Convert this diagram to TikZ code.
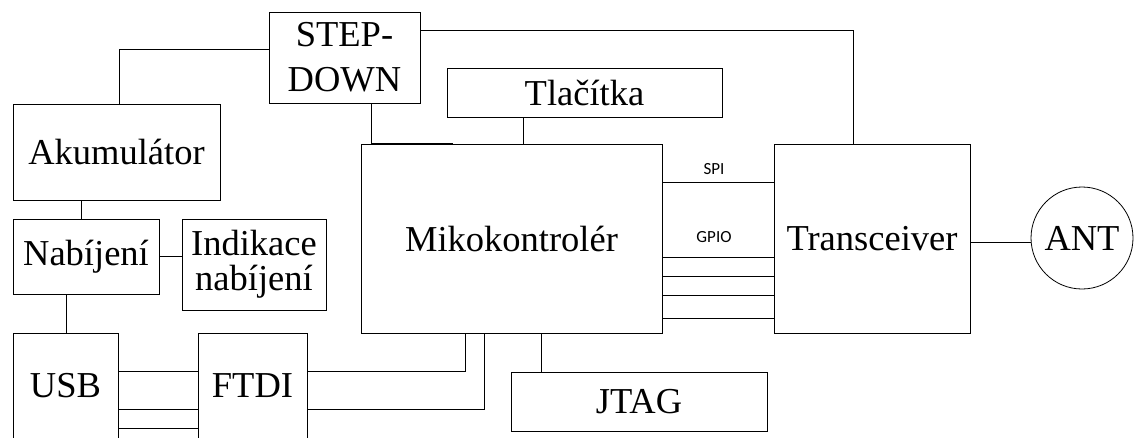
\documentclass[tikz,border=0pt]{standalone}
\usepackage{fontspec}
\setmainfont{Liberation Serif}
\newfontfamily\labelfont{Carlito}
\begin{document}
\begin{tikzpicture}[x=1pt,y=-1pt,
  box/.style={draw, rectangle, inner sep=0pt, align=center,
    font=\fontsize{36.5}{45}\selectfont},
  wire/.style={draw, line width=0.8pt},
  lbl/.style={font=\labelfont\fontsize{17}{20}\selectfont, inner sep=0pt},
  every node/.append style={line width=0.8pt}]
\useasboundingbox (0,0) rectangle (1135,437);
\clip (0,0) rectangle (1135,437);

% blocks
\node[box, minimum width=151pt, minimum height=91pt] (sd) at (344.5,57.5) {STEP-\\DOWN};
\node[box, minimum width=207pt, minimum height=96pt] (ak) at (116.5,152) {Akumulátor};
\node[box, minimum width=146pt, minimum height=75pt] (nab) at (86,256.5) {Nabíjení};
\node[box, minimum width=144pt, minimum height=91pt,
      font=\fontsize{36.5}{35}\selectfont] (ind) at (254,264.5) {Indikace\\nabíjení};
\node[box, minimum width=105pt, minimum height=106pt] (usb) at (65.5,386) {USB};
\node[box, minimum width=109pt, minimum height=106pt] (ftdi) at (252.5,386) {FTDI};
\node[box, minimum width=301pt, minimum height=189pt] (mcu) at (511.5,238.5) {Mikokontrolér};
\node[box, minimum width=275pt, minimum height=49pt] (tl) at (584.5,92.5) {Tlačítka};
\node[box, minimum width=256pt, minimum height=59pt] (jtag) at (639,401.5) {JTAG};
\node[box, minimum width=196pt, minimum height=189pt] (tr) at (872,238.5) {Transceiver};
\node[box, circle, minimum size=102pt] (ant) at (1082,238) {ANT};

% power distribution
\draw[wire] ([yshift=8.5pt]sd.west) -| ([xshift=2.5pt]ak.north);
\draw[wire] ([yshift=27.5pt]sd.east) -| ([xshift=-19pt]tr.north);
\draw[wire] ([xshift=26.5pt]sd.south) |- ([xshift=-58.5pt]mcu.north);
\draw[wire] ([xshift=-61.5pt]tl.south) -- ([xshift=-61.5pt]tl.south |- mcu.north);
\draw[wire] ([xshift=-35.5pt]ak.south) -- ([xshift=-35.5pt]ak.south |- nab.north);
\draw[wire] (nab.east) -- (nab.east -| ind.west);
\draw[wire] ([xshift=-20pt]nab.south) -- ([xshift=-20pt]nab.south |- usb.north);

% USB to FTDI
\foreach \dy in {15,-23,-42}
  \draw[wire] ([yshift=\dy pt]usb.east) -- ([yshift=\dy pt]usb.east -| ftdi.west);

% FTDI to microcontroller
\draw[wire] ([yshift=15pt]ftdi.east) -| ([xshift=-46.5pt]mcu.south);
\draw[wire] ([yshift=-23pt]ftdi.east) -| ([xshift=-27.5pt]mcu.south);

% JTAG
\draw[wire] ([xshift=29.5pt]mcu.south) -- ([xshift=29.5pt]mcu.south |- jtag.north);

% microcontroller to transceiver
\draw[wire] ([yshift=56.5pt]mcu.east) -- ([yshift=56.5pt]mcu.east -| tr.west)
  node[lbl, midway, above=7pt, xshift=-4pt] {SPI};
\draw[wire] ([yshift=-18.5pt]mcu.east) -- ([yshift=-18.5pt]mcu.east -| tr.west)
  node[lbl, midway, above=14pt, xshift=-4pt] {GPIO};
\foreach \dy in {-37.5,-56.5,-79.5}
  \draw[wire] ([yshift=\dy pt]mcu.east) -- ([yshift=\dy pt]mcu.east -| tr.west);

% antenna
\draw[wire] ([yshift=-4pt]tr.east) -- ([yshift=-4pt]tr.east -| ant.west);
\end{tikzpicture}
\end{document}
